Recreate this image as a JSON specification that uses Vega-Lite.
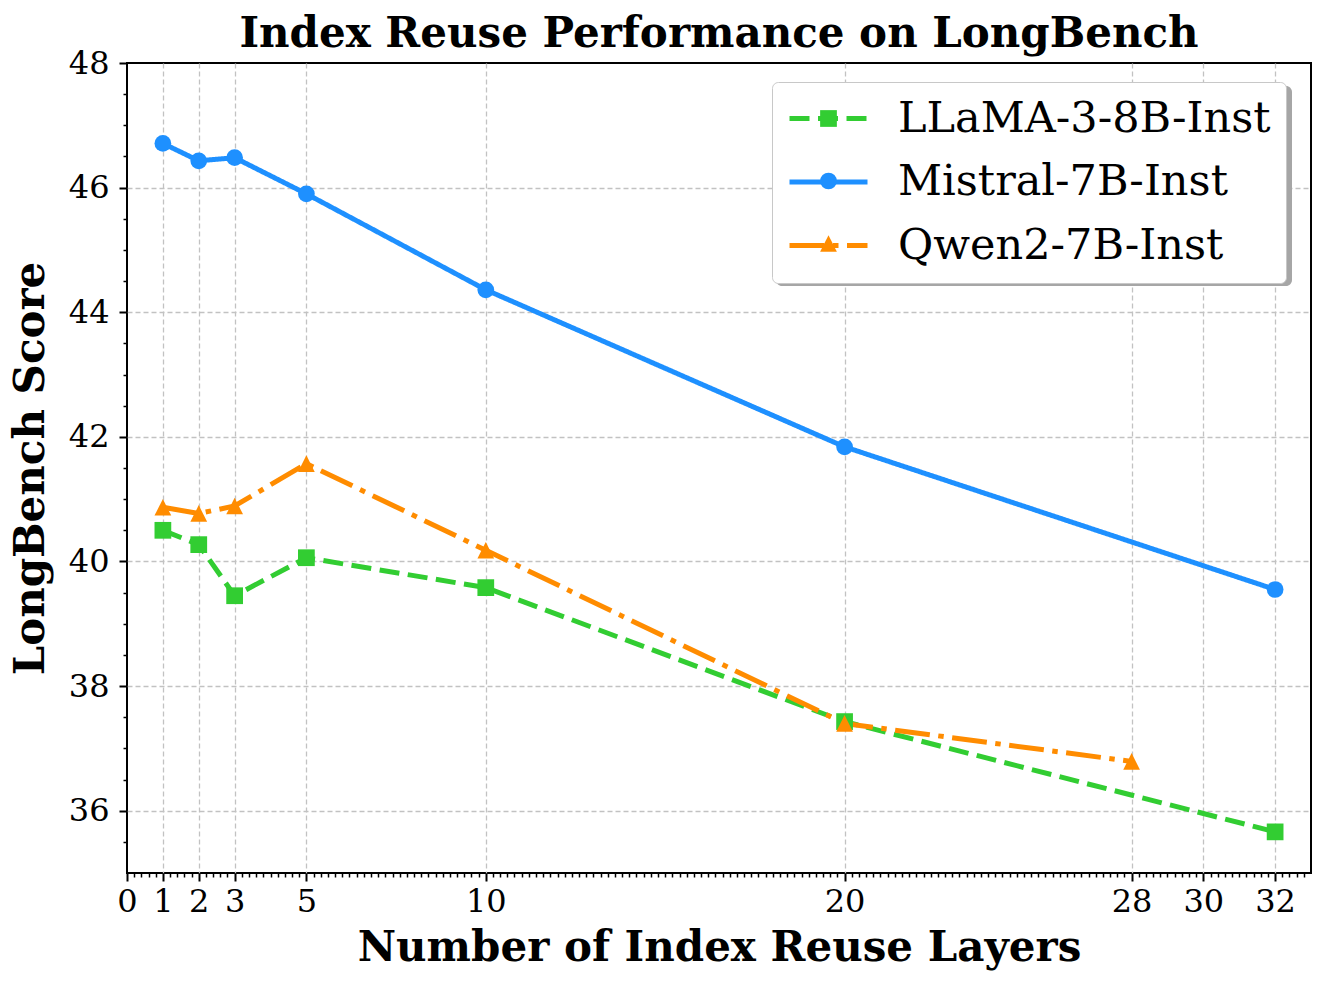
{
  "$schema": "https://vega.github.io/schema/vega-lite/v6.json",
  "width": 1184,
  "height": 810,
  "autosize": {"type": "none"},
  "padding": {"left": 127, "top": 63, "right": 17, "bottom": 117},
  "background": "white",
  "config": {
    "font": "DejaVu Serif",
    "view": {"stroke": "black", "strokeWidth": 2}
  },
  "title": {
    "text": "Index Reuse Performance on LongBench",
    "font": "DejaVu Serif",
    "fontSize": 42,
    "fontWeight": "bold",
    "color": "black",
    "anchor": "middle",
    "frame": "group",
    "baseline": "alphabetic",
    "offset": 15,
    "dy": 57
  },
  "data": {
    "values": [
      {"model": "LLaMA-3-8B-Inst", "layers": 1, "score": 40.50},
      {"model": "LLaMA-3-8B-Inst", "layers": 2, "score": 40.27},
      {"model": "LLaMA-3-8B-Inst", "layers": 3, "score": 39.45},
      {"model": "LLaMA-3-8B-Inst", "layers": 5, "score": 40.06},
      {"model": "LLaMA-3-8B-Inst", "layers": 10, "score": 39.58},
      {"model": "LLaMA-3-8B-Inst", "layers": 20, "score": 37.43},
      {"model": "LLaMA-3-8B-Inst", "layers": 32, "score": 35.66},
      {"model": "Mistral-7B-Inst", "layers": 1, "score": 46.71},
      {"model": "Mistral-7B-Inst", "layers": 2, "score": 46.43},
      {"model": "Mistral-7B-Inst", "layers": 3, "score": 46.48},
      {"model": "Mistral-7B-Inst", "layers": 5, "score": 45.90},
      {"model": "Mistral-7B-Inst", "layers": 10, "score": 44.36},
      {"model": "Mistral-7B-Inst", "layers": 20, "score": 41.84},
      {"model": "Mistral-7B-Inst", "layers": 32, "score": 39.55},
      {"model": "Qwen2-7B-Inst", "layers": 1, "score": 40.87},
      {"model": "Qwen2-7B-Inst", "layers": 2, "score": 40.77},
      {"model": "Qwen2-7B-Inst", "layers": 3, "score": 40.89},
      {"model": "Qwen2-7B-Inst", "layers": 5, "score": 41.57},
      {"model": "Qwen2-7B-Inst", "layers": 10, "score": 40.18},
      {"model": "Qwen2-7B-Inst", "layers": 20, "score": 37.40},
      {"model": "Qwen2-7B-Inst", "layers": 28, "score": 36.79}
    ]
  },
  "layer": [
    {
      "mark": {"type": "line", "strokeWidth": 5, "strokeCap": "butt"},
      "encoding": {
        "x": {
          "field": "layers", "type": "quantitative",
          "scale": {"domain": [0, 33], "nice": false, "zero": false},
          "axis": {
            "orient": "bottom",
            "values": [0, 1, 2, 3, 5, 10, 20, 28, 30, 32],
            "format": "d",
            "title": "Number of Index Reuse Layers",
            "titleFont": "DejaVu Serif", "titleFontSize": 42, "titleFontWeight": "bold", "titleColor": "black",
            "titlePadding": 10,
            "labelFont": "DejaVu Serif", "labelFontSize": 32, "labelColor": "black",
            "labelPadding": 5, "labelFlush": false, "labelOverlap": false,
            "tickSize": 8, "tickWidth": 2, "tickColor": "black",
            "domain": false,
            "grid": true, "gridColor": "#c2c2c2", "gridDash": [5, 3], "gridWidth": 1.3,
            "gridOpacity": {"condition": {"test": "datum.value == 0", "value": 0}, "value": 1}
          }
        },
        "y": {
          "field": "score", "type": "quantitative",
          "scale": {"domain": [35, 48], "nice": false, "zero": false},
          "axis": {
            "orient": "left",
            "values": [36, 38, 40, 42, 44, 46, 48],
            "title": "LongBench Score",
            "titleFont": "DejaVu Serif", "titleFontSize": 42, "titleFontWeight": "bold", "titleColor": "black",
            "titlePadding": 16,
            "labelFont": "DejaVu Serif", "labelFontSize": 32, "labelColor": "black",
            "labelPadding": 10, "labelFlush": false, "labelOverlap": false,
            "tickSize": 8, "tickWidth": 2, "tickColor": "black",
            "domain": false,
            "grid": true, "gridColor": "#c2c2c2", "gridDash": [5, 3], "gridWidth": 1.3,
            "gridOpacity": {"condition": {"test": "datum.value == 48", "value": 0}, "value": 1}
          }
        },
        "color": {
          "field": "model", "type": "nominal",
          "scale": {"domain": ["LLaMA-3-8B-Inst", "Mistral-7B-Inst", "Qwen2-7B-Inst"], "range": ["#32CD32", "#1E90FF", "#FF8C00"]},
          "legend": {
            "title": null, "orient": "none", "legendX": 645, "legendY": 19, "direction": "vertical",
            "symbolType": "stroke", "symbolSize": 6084, "symbolStrokeWidth": 5,
            "labelFont": "DejaVu Serif", "labelFontSize": 43, "labelColor": "black", "labelOffset": 28, "labelLimit": 600,
            "clipHeight": 43, "rowPadding": 19.5, "padding": 15,
            "fillColor": "white", "strokeColor": "#c8c8c8", "cornerRadius": 6, "zindex": 2
          }
        },
        "strokeDash": {
          "field": "model", "type": "nominal",
          "scale": {"domain": ["LLaMA-3-8B-Inst", "Mistral-7B-Inst", "Qwen2-7B-Inst"], "range": [[20, 8.5], [1, 0], [35, 8.5, 5.5, 8.5]]},
          "legend": {
            "title": null, "orient": "none", "legendX": 645, "legendY": 19, "direction": "vertical",
            "symbolType": "stroke", "symbolSize": 6084, "symbolStrokeWidth": 5,
            "labelFont": "DejaVu Serif", "labelFontSize": 43, "labelColor": "black", "labelOffset": 28, "labelLimit": 600,
            "clipHeight": 43, "rowPadding": 19.5, "padding": 15,
            "fillColor": "white", "strokeColor": "#c8c8c8", "cornerRadius": 6, "zindex": 2
          }
        },
        "opacity": {
          "field": "model", "type": "ordinal",
          "scale": {"domain": ["Qwen2-7B-Inst", "Mistral-7B-Inst", "LLaMA-3-8B-Inst"], "range": [1, 1]},
          "legend": {
            "title": null, "orient": "none", "legendX": 649, "legendY": 23, "direction": "vertical",
            "symbolType": "stroke", "symbolSize": 6084, "symbolStrokeWidth": 5, "symbolOpacity": 0,
            "labelFontSize": 1, "labelOpacity": 0, "labelOffset": 395, "labelLimit": 8,
            "clipHeight": 43, "rowPadding": 20.5, "padding": 15,
            "fillColor": "#a6a6a6", "cornerRadius": 6, "zindex": 1
          }
        }
      }
    },
    {
      "mark": {"type": "point", "filled": true, "size": 280, "opacity": 1},
      "encoding": {
        "x": {
          "field": "layers", "type": "quantitative",
          "axis": {
            "orient": "bottom",
            "values": [0.2,0.4,0.6,0.8,1.2,1.4,1.6,1.8,2.2,2.4,2.6,2.8,3.2,3.4,3.6,3.8,4,4.2,4.4,4.6,4.8,5.2,5.4,5.6,5.8,6,6.2,6.4,6.6,6.8,7,7.2,7.4,7.6,7.8,8,8.2,8.4,8.6,8.8,9,9.2,9.4,9.6,9.8,10.2,10.4,10.6,10.8,11,11.2,11.4,11.6,11.8,12,12.2,12.4,12.6,12.8,13,13.2,13.4,13.6,13.8,14,14.2,14.4,14.6,14.8,15,15.2,15.4,15.6,15.8,16,16.2,16.4,16.6,16.8,17,17.2,17.4,17.6,17.8,18,18.2,18.4,18.6,18.8,19,19.2,19.4,19.6,19.8,20.2,20.4,20.6,20.8,21,21.2,21.4,21.6,21.8,22,22.2,22.4,22.6,22.8,23,23.2,23.4,23.6,23.8,24,24.2,24.4,24.6,24.8,25,25.2,25.4,25.6,25.8,26,26.2,26.4,26.6,26.8,27,27.2,27.4,27.6,27.8,28.2,28.4,28.6,28.8,29,29.2,29.4,29.6,29.8,30.2,30.4,30.6,30.8,31,31.2,31.4,31.6,31.8,32.2,32.4,32.6,32.8],
            "labels": false, "title": null, "domain": false, "grid": false,
            "ticks": true, "tickSize": 4, "tickWidth": 1.5, "tickColor": "black"
          }
        },
        "y": {
          "field": "score", "type": "quantitative",
          "axis": {
            "orient": "left",
            "values": [35.5, 36.5, 37, 37.5, 38.5, 39, 39.5, 40.5, 41, 41.5, 42.5, 43, 43.5, 44.5, 45, 45.5, 46.5, 47, 47.5],
            "labels": false, "title": null, "domain": false, "grid": false,
            "ticks": true, "tickSize": 4, "tickWidth": 1.5, "tickColor": "black"
          }
        },
        "fill": {
          "field": "model", "type": "nominal",
          "scale": {"range": ["#32CD32", "#1E90FF", "#FF8C00"]},
          "legend": {
            "title": null, "orient": "none", "legendX": 693, "legendY": 34, "direction": "vertical",
            "symbolSize": 280, "symbolStrokeWidth": 0,
            "labelFontSize": 1, "labelOpacity": 0, "labelLimit": 5,
            "clipHeight": 43, "rowPadding": 19.5, "padding": 0, "zindex": 3
          }
        },
        "shape": {
          "field": "model", "type": "nominal",
          "scale": {"range": ["square", "circle", "M0,-1L1,1L-1,1Z"]},
          "legend": {
            "title": null, "orient": "none", "legendX": 693, "legendY": 34, "direction": "vertical",
            "symbolSize": 280, "symbolStrokeWidth": 0,
            "labelFontSize": 1, "labelOpacity": 0, "labelLimit": 5,
            "clipHeight": 43, "rowPadding": 19.5, "padding": 0, "zindex": 3
          }
        }
      }
    }
  ],
  "resolve": {"axis": {"x": "independent", "y": "independent"}}
}
